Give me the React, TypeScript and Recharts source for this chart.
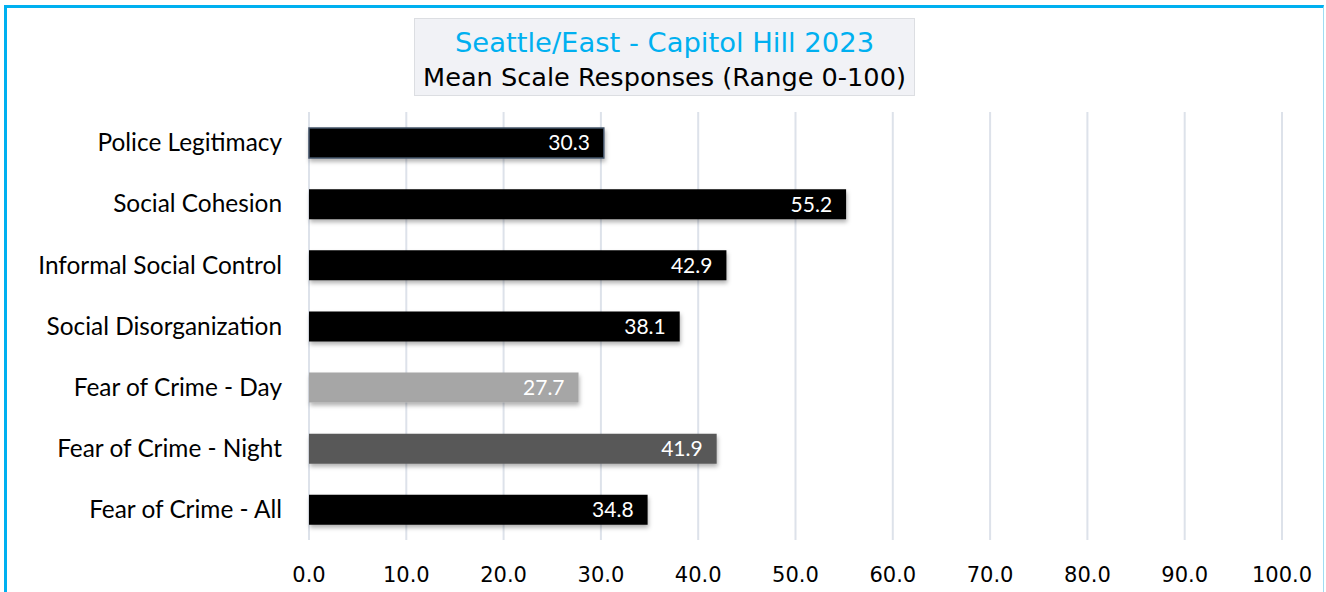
import React from "react";
import { BarChart, Bar, XAxis, YAxis, CartesianGrid, Cell, LabelList } from "recharts";

const categories = [
  "Police Legitimacy",
  "Social Cohesion",
  "Informal Social Control",
  "Social Disorganization",
  "Fear of Crime - Day",
  "Fear of Crime - Night",
  "Fear of Crime - All",
];
const values = [30.3, 55.2, 42.9, 38.1, 27.7, 41.9, 34.8];
const barColors = ["#000000", "#000000", "#000000", "#000000", "#a6a6a6", "#595959", "#000000"];
const barStrokes = ["#44546a", "none", "none", "none", "none", "none", "none"];
const xTicks = [0, 10, 20, 30, 40, 50, 60, 70, 80, 90, 100];
const titleLine1 = "Seattle/East - Capitol Hill 2023";
const titleLine2 = "Mean Scale Responses (Range 0-100)";

const data = categories.map((name, i) => ({ name, value: values[i] }));

export default function App() {
  return (
    <div style={{ position: "absolute", left: 0, top: 0, width: 1326, height: 592, background: "#fff", overflow: "hidden" }}>
      <svg width={1} height={1} style={{ position: "absolute", left: 0, top: 0 }}>
        <defs>
          <filter id="barShadow" x="-5%" y="-30%" width="115%" height="180%">
            <feDropShadow dx="1" dy="3" stdDeviation="2" floodColor="#000" floodOpacity="0.3" />
          </filter>
        </defs>
      </svg>
      <div
        style={{
          position: "absolute",
          left: 4,
          top: 5,
          width: 1320,
          height: 600,
          borderTop: "3px solid #00b0f0",
          borderLeft: "3px solid #00b0f0",
          borderRight: "1px solid #9fdcf3",
          boxSizing: "border-box",
        }}
      />
      <div style={{ position: "absolute", left: 0, top: 0 }}>
        <BarChart
          width={1326}
          height={592}
          data={data}
          layout="vertical"
          margin={{ top: 112, right: 44, bottom: 0, left: 0 }}
          barSize={30}
        >
          <CartesianGrid horizontal={false} vertical={true} stroke="#dde2ea" strokeWidth={2} />
          <XAxis
            type="number"
            domain={[0, 100]}
            ticks={xTicks}
            tickFormatter={(v: number) => Number(v).toFixed(1)}
            axisLine={false}
            tickLine={false}
            tickMargin={21}
            height={52}
            tick={{ fill: "#000", fontSize: 21, fontFamily: "'DejaVu Sans', sans-serif" }}
            interval={0}
          />
          <YAxis
            type="category"
            dataKey="name"
            width={309}
            axisLine={false}
            tickLine={false}
            tickMargin={21}
            tick={{ fill: "#000", fontSize: 24.4, fontFamily: "Lato, sans-serif" }}
            interval={0}
          />
          <Bar dataKey="value" isAnimationActive={false} style={{ filter: "url(#barShadow)" }}>
            {data.map((d, i) => (
              <Cell key={d.name} fill={barColors[i]} stroke={barStrokes[i]} strokeWidth={1.5} />
            ))}
            <LabelList
              dataKey="value"
              position="insideRight"
              offset={14}
              formatter={(v: any) => Number(v).toFixed(1)}
              style={{ fill: "#ffffff", fontSize: 21, fontFamily: "Lato, sans-serif" }}
            />
          </Bar>
        </BarChart>
      </div>
      <div
        style={{
          position: "absolute",
          left: 414,
          top: 18,
          width: 501,
          height: 78,
          background: "#f1f2f6",
          border: "1px solid #dcdee2",
          boxSizing: "border-box",
          textAlign: "center",
          fontFamily: "'DejaVu Sans', sans-serif",
          whiteSpace: "nowrap",
        }}
      >
        <div style={{ color: "#00b0f0", fontSize: 27.4, lineHeight: "34px", marginTop: 7 }}>{titleLine1}</div>
        <div style={{ color: "#000", fontSize: 25.6, lineHeight: "34px" }}>{titleLine2}</div>
      </div>
    </div>
  );
}
